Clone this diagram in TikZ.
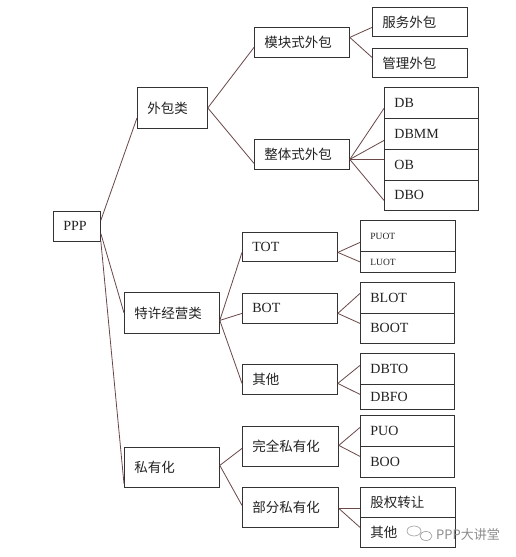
\documentclass[tikz,border=0pt]{standalone}
\usepackage{fontspec}
\setmainfont{Liberation Serif}
\newfontfamily\cjk{Noto Sans CJK SC}
\definecolor{linec}{HTML}{6A4848}
\definecolor{boxc}{HTML}{333333}
\definecolor{txtc}{HTML}{222222}
\begin{document}
\begin{tikzpicture}[x=1pt,y=-1pt,
  box/.style={draw=boxc, line width=0.8pt, rectangle, anchor=north west, inner xsep=10pt, inner ysep=0pt, align=left, text=txtc, font=\fontsize{14}{14}\selectfont},
  cn/.style={font=\cjk\fontsize{13.5}{13.5}\selectfont},
  small/.style={font=\fontsize{9.5}{9.5}\selectfont},
  conn/.style={draw=linec, line width=0.8pt},
  wm/.style={text=black!45, font=\cjk\fontsize{13}{13}\selectfont}]
\fill[white] (0,0) rectangle (515,557);
\useasboundingbox (0,0) rectangle (515,557);
% level 0
\node[box, minimum width=47pt, minimum height=30pt, text width=27pt] (ppp) at (53,211) {PPP};
% level 1
\node[box, cn, minimum width=70pt, minimum height=41pt, text width=50pt] (wb) at (137,87) {外包类};
\node[box, cn, minimum width=95pt, minimum height=41pt, text width=75pt] (tx) at (124,292) {特许经营类};
\node[box, cn, minimum width=95pt, minimum height=40pt, text width=75pt] (sy) at (124,447) {私有化};
% level 2
\node[box, cn, minimum width=95pt, minimum height=30pt, text width=75pt] (mk) at (254,27) {模块式外包};
\node[box, cn, minimum width=95pt, minimum height=30pt, text width=75pt] (zt) at (254,139) {整体式外包};
\node[box, minimum width=95pt, minimum height=29pt, text width=75pt] (tot) at (242,232) {TOT};
\node[box, minimum width=95pt, minimum height=30pt, text width=75pt] (bot) at (242,293) {BOT};
\node[box, cn, minimum width=95pt, minimum height=30pt, text width=75pt] (qt) at (242,364) {其他};
\node[box, cn, minimum width=96pt, minimum height=40pt, text width=76pt] (wq) at (242,426) {完全私有化};
\node[box, cn, minimum width=96pt, minimum height=40pt, text width=76pt] (bf) at (242,487) {部分私有化};
% level 3
\node[box, cn, minimum width=95pt, minimum height=29pt, text width=75pt] (fw) at (372,7) {服务外包};
\node[box, cn, minimum width=95pt, minimum height=29pt, text width=75pt] (gl) at (372,48) {管理外包};
\node[box, minimum width=94pt, minimum height=31pt, text width=74pt] (db) at (384,87) {DB};
\node[box, minimum width=94pt, minimum height=31pt, text width=74pt] (dbmm) at (384,118) {DBMM};
\node[box, minimum width=94pt, minimum height=31pt, text width=74pt] (ob) at (384,149) {OB};
\node[box, minimum width=94pt, minimum height=30pt, text width=74pt] (dbo) at (384,180) {DBO};
\node[box, small, minimum width=95pt, minimum height=31pt, text width=75pt] (puot) at (360,220) {PUOT};
\node[box, small, minimum width=95pt, minimum height=21pt, text width=75pt] (luot) at (360,251) {LUOT};
\node[box, minimum width=94pt, minimum height=31pt, text width=74pt] (blot) at (360,282) {BLOT};
\node[box, minimum width=94pt, minimum height=30pt, text width=74pt] (boot) at (360,313) {BOOT};
\node[box, minimum width=94pt, minimum height=31pt, text width=74pt] (dbto) at (360,353) {DBTO};
\node[box, minimum width=94pt, minimum height=25pt, text width=74pt] (dbfo) at (360,384) {DBFO};
\node[box, minimum width=94pt, minimum height=31pt, text width=74pt] (puo) at (360,415) {PUO};
\node[box, minimum width=94pt, minimum height=31pt, text width=74pt] (boo) at (360,446) {BOO};
\node[box, cn, minimum width=95pt, minimum height=30pt, text width=75pt] (gq) at (360,487) {股权转让};
\node[box, cn, minimum width=95pt, minimum height=30pt, text width=75pt] (qt2) at (360,517) {其他};
% connectors level 0 -> 1
\draw[conn] ([yshift=6pt]ppp.east) -- ([yshift=-10pt]wb.west);
\draw[conn] ([yshift=-7pt]ppp.east) -- (tx.west);
\draw[conn] ([yshift=1pt]ppp.south east) -- ([yshift=4pt]sy.south west);
% level 1 -> 2
\draw[conn] (wb.east) -- ([yshift=-5pt]mk.west);
\draw[conn] (wb.east) -- ([yshift=-9pt]zt.west);
\draw[conn] ([yshift=-7.5pt]tx.east) -- ([yshift=-5.5pt]tot.west);
\draw[conn] ([yshift=-7.5pt]tx.east) -- ([yshift=-5pt]bot.west);
\draw[conn] ([yshift=-7.5pt]tx.east) -- ([yshift=-4pt]qt.west);
\draw[conn] ([yshift=2pt]sy.east) -- ([yshift=-2pt]wq.west);
\draw[conn] ([yshift=2pt]sy.east) -- ([yshift=2pt]bf.west);
% level 2 -> 3
\draw[conn] ([yshift=5pt]mk.east) -- ([yshift=-5.5pt]fw.west);
\draw[conn] ([yshift=5pt]mk.east) -- ([yshift=5.5pt]gl.west);
\draw[conn] ([yshift=-5pt]zt.east) -- ([yshift=-5.5pt]db.west);
\draw[conn] ([yshift=-5pt]zt.east) -- ([yshift=-6.5pt]dbmm.west);
\draw[conn] ([yshift=-5pt]zt.east) -- ([yshift=5.5pt]ob.west);
\draw[conn] ([yshift=-5pt]zt.east) -- ([yshift=-5pt]dbo.west);
\draw[conn] ([yshift=-5.5pt]tot.east) -- ([yshift=-6.5pt]puot.west);
\draw[conn] ([yshift=-5.5pt]tot.east) -- (luot.west);
\draw[conn] ([yshift=-5pt]bot.east) -- ([yshift=4.5pt]blot.west);
\draw[conn] ([yshift=-5pt]bot.east) -- ([yshift=5pt]boot.west);
\draw[conn] ([yshift=-4pt]qt.east) -- ([yshift=3.5pt]dbto.west);
\draw[conn] ([yshift=-4pt]qt.east) -- ([yshift=2.5pt]dbfo.west);
\draw[conn] ([yshift=1pt]wq.east) -- ([yshift=3.5pt]puo.west);
\draw[conn] ([yshift=1pt]wq.east) -- ([yshift=5.5pt]boo.west);
\draw[conn] ([yshift=-1pt]bf.east) -- ([yshift=-6pt]gq.west);
\draw[conn] ([yshift=-1pt]bf.east) -- ([yshift=5pt]qt2.west);
% watermark
\draw[black!40, line width=0.6pt] (414,531) ellipse (7pt and 5pt);
\draw[black!40, line width=0.6pt] (426,536) ellipse (6pt and 4.5pt);
\node[wm, anchor=west, inner sep=0pt] (wmark) at (436,535) {PPP大讲堂};
\end{tikzpicture}
\end{document}
